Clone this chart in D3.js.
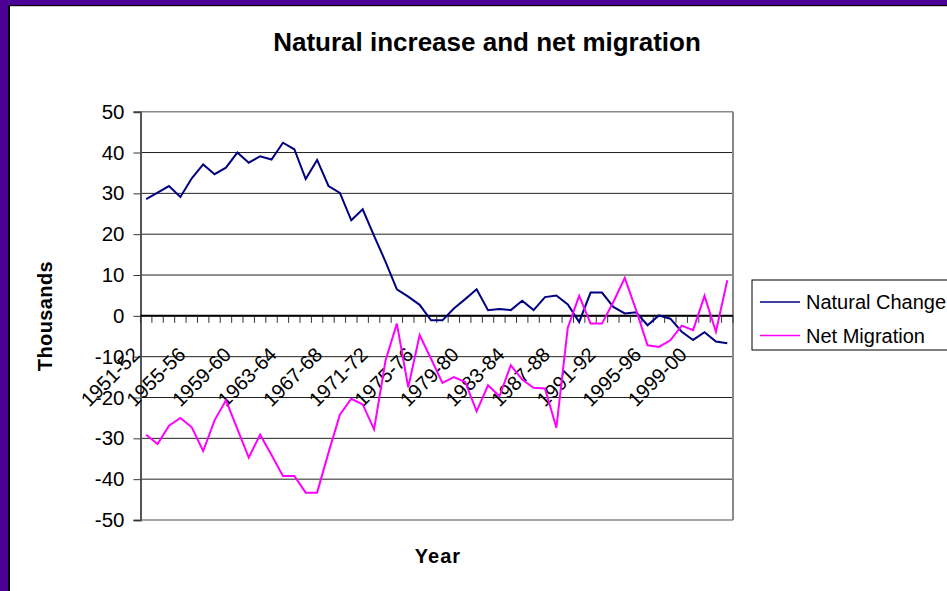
<!DOCTYPE html>
<html>
<head>
<meta charset="utf-8">
<script src="https://cdn.jsdelivr.net/npm/d3@7"></script>
<style>
  body { margin: 0; background: #fff; overflow: hidden; }
  svg { display: block; }
  text { font-family: "Liberation Sans", Arial, sans-serif; fill: #000; }
</style>
</head>
<body>
<svg id="chart" width="947" height="591"></svg>
<script>
// Financial years on the category axis
const years = [
  "1951-52","1952-53","1953-54","1954-55","1955-56","1956-57","1957-58","1958-59",
  "1959-60","1960-61","1961-62","1962-63","1963-64","1964-65","1965-66","1966-67",
  "1967-68","1968-69","1969-70","1970-71","1971-72","1972-73","1973-74","1974-75",
  "1975-76","1976-77","1977-78","1978-79","1979-80","1980-81","1981-82","1982-83",
  "1983-84","1984-85","1985-86","1986-87","1987-88","1988-89","1989-90","1990-91",
  "1991-92","1992-93","1993-94","1994-95","1995-96","1996-97","1997-98","1998-99",
  "1999-00","2000-01","2001-02","2002-03"
];

// Thousands of people per year
const naturalChange = [
  28.6, 30.2, 31.8, 29.1, 33.7, 37.1, 34.7, 36.3, 40.0, 37.5,
  39.1, 38.3, 42.4, 40.8, 33.5, 38.2, 31.8, 30.1, 23.4, 26.1,
  19.6, 13.3, 6.5, 4.7, 2.7, -1.1, -1.1, 1.8, 4.1, 6.5,
  1.4, 1.7, 1.4, 3.7, 1.4, 4.6, 5.0, 2.8, -1.5, 5.7,
  5.7, 2.2, 0.6, 0.9, -2.3, 0.1, -0.7, -3.9, -5.9, -4.0,
  -6.3, -6.7
];
const netMigration = [
  -29.1, -31.4, -26.9, -25.0, -27.3, -33.1, -25.6, -20.7, -27.7, -34.7,
  -29.1, -34.1, -39.2, -39.2, -43.3, -43.3, -33.5, -24.2, -20.3, -21.7,
  -27.8, -11.0, -1.9, -17.5, -4.7, -10.5, -16.4, -15.0, -16.2, -23.4,
  -17.0, -19.7, -12.1, -15.6, -17.6, -17.8, -27.4, -2.9, 4.9, -1.9,
  -1.9, 3.4, 9.3, 1.4, -7.2, -7.6, -6.0, -2.4, -3.5, 4.9,
  -3.9, 8.7
];

const yTicks = [50, 40, 30, 20, 10, 0, -10, -20, -30, -40, -50];
const labelEvery = 4;

const series = [
  { name: "Natural Change", values: naturalChange, color: "#000080" },
  { name: "Net Migration", values: netMigration, color: "#ff00ff" }
];

const svg = d3.select("#chart");
const plot = { left: 140.5, right: 733, top: 111.7, bottom: 520 };

const x = d3.scaleBand().domain(years).range([plot.left, plot.right]).padding(0);
const y = d3.scaleLinear().domain([-50, 50]).range([plot.bottom, plot.top]);
const cx = d => x(d) + x.bandwidth() / 2;

// window frame
svg.append("rect").attr("x", 0).attr("y", 0).attr("width", 947).attr("height", 5).attr("fill", "#4b0096");
svg.append("rect").attr("x", 0).attr("y", 0).attr("width", 8).attr("height", 591).attr("fill", "#4b0096");
svg.append("rect").attr("x", 8).attr("y", 5).attr("width", 939).attr("height", 1.2).attr("fill", "#000");
svg.append("rect").attr("x", 8).attr("y", 5).attr("width", 2).attr("height", 586).attr("fill", "#000");

// title
svg.append("text")
  .attr("x", 487).attr("y", 51)
  .attr("text-anchor", "middle")
  .attr("font-size", 26).attr("font-weight", "bold")
  .text("Natural increase and net migration");

// horizontal gridlines
svg.append("g")
  .selectAll("line")
  .data(yTicks)
  .join("line")
  .attr("x1", plot.left).attr("x2", plot.right)
  .attr("y1", d => y(d)).attr("y2", d => y(d))
  .attr("stroke", d => (d === 50 || d === -50) ? "#888" : "#222")
  .attr("stroke-width", d => (d === 50 || d === -50) ? 1.6 : 1);

// plot frame on the right
svg.append("line")
  .attr("x1", plot.right).attr("x2", plot.right)
  .attr("y1", plot.top).attr("y2", plot.bottom)
  .attr("stroke", "#888").attr("stroke-width", 2);

// value axis
const yAxis = d3.axisLeft(y).tickValues(yTicks).tickSize(7).tickPadding(9).tickFormat(d => String(d));
const gy = svg.append("g").attr("transform", `translate(${plot.left},0)`).call(yAxis);
gy.select(".domain").attr("stroke", "#555").attr("stroke-width", 2);
gy.selectAll(".tick line").attr("stroke", "#333");
gy.selectAll(".tick text").attr("font-size", 20.5).attr("font-family", "Liberation Sans, Arial, sans-serif").attr("fill", "#000");

// category axis across zero
const y0 = y(0);
svg.append("line")
  .attr("x1", plot.left).attr("x2", plot.right)
  .attr("y1", y0).attr("y2", y0)
  .attr("stroke", "#000").attr("stroke-width", 2);
const boundaries = years.map(d => x(d)).concat([plot.right]);
svg.append("g")
  .selectAll("line")
  .data(boundaries)
  .join("line")
  .attr("x1", d => d).attr("x2", d => d)
  .attr("y1", y0).attr("y2", y0 + 7)
  .attr("stroke", "#333").attr("stroke-width", 1);

svg.append("g")
  .selectAll("text")
  .data(years.filter((d, i) => i % labelEvery === 0))
  .join("text")
  .attr("text-anchor", "end")
  .attr("font-size", 20)
  .attr("transform", d => `translate(${cx(d) - 5},${y0 + 40}) rotate(-45)`)
  .text(d => d);

// series lines
const line = d3.line().x((v, i) => cx(years[i])).y(v => y(v));
svg.append("g")
  .selectAll("path")
  .data(series)
  .join("path")
  .attr("d", s => line(s.values))
  .attr("fill", "none")
  .attr("stroke", s => s.color)
  .attr("stroke-width", 2)
  .attr("stroke-linejoin", "miter");

// axis titles
svg.append("text")
  .attr("transform", "translate(52,316) rotate(-90)")
  .attr("text-anchor", "middle")
  .attr("font-size", 20).attr("font-weight", "bold")
  .attr("letter-spacing", 0.4)
  .text("Thousands");
svg.append("text")
  .attr("x", 438).attr("y", 563)
  .attr("text-anchor", "middle")
  .attr("font-size", 20).attr("font-weight", "bold")
  .attr("letter-spacing", 1)
  .text("Year");

// legend
const legend = svg.append("g").attr("transform", "translate(752,280)");
legend.append("rect")
  .attr("x", 0).attr("y", 0).attr("width", 230).attr("height", 70)
  .attr("fill", "#fff").attr("stroke", "#000").attr("stroke-width", 1);
const item = legend.selectAll("g.item")
  .data(series)
  .join("g")
  .attr("class", "item")
  .attr("transform", (d, i) => `translate(0,${22 + i * 33.5})`);
item.append("line")
  .attr("x1", 8).attr("x2", 48).attr("y1", 0).attr("y2", 0)
  .attr("stroke", d => d.color).attr("stroke-width", 1.5);
item.append("text")
  .attr("x", 54).attr("y", 7)
  .attr("font-size", 20)
  .text(d => d.name);
</script>
</body>
</html>
